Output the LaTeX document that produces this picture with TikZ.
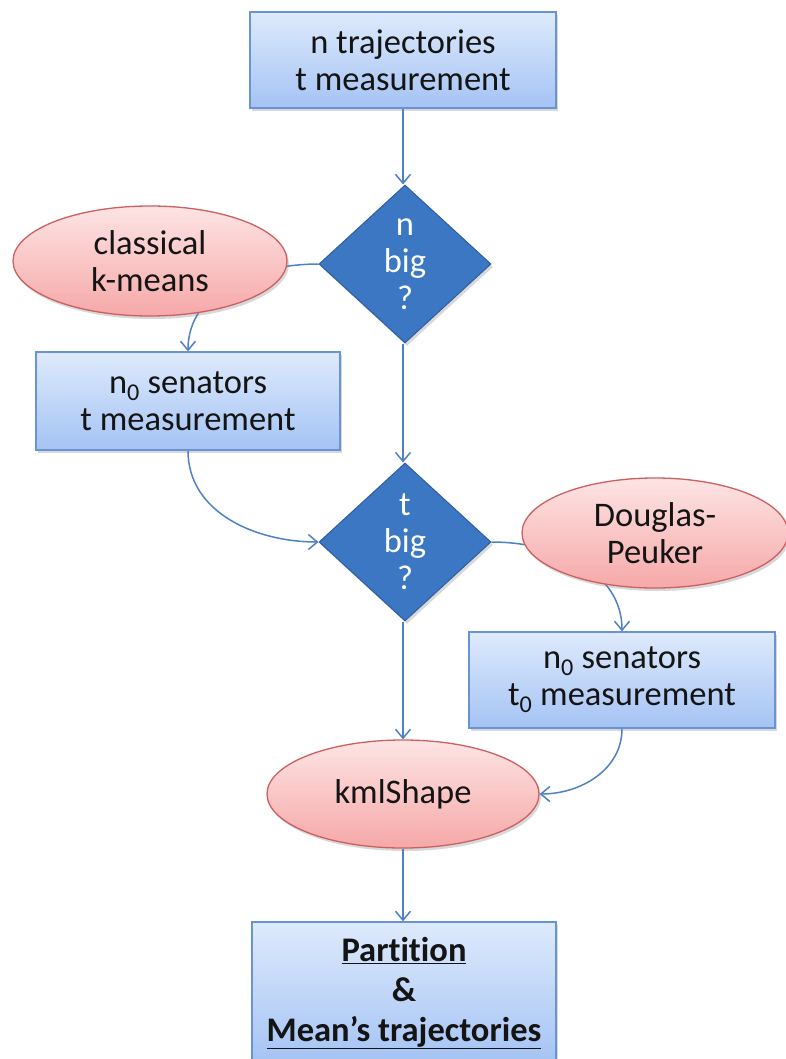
\documentclass[tikz,border=0pt]{standalone}
\usepackage{fontspec}
\setmainfont{Carlito}[Ligatures=NoCommon]
\usetikzlibrary{shapes.geometric,arrows.meta,shadows}
\pgfdeclarelayer{background}
\pgfdeclarelayer{paper}
\pgfsetlayers{paper,background,main}
\definecolor{boxtop}{RGB}{222,234,252}
\definecolor{boxbot}{RGB}{164,195,244}
\definecolor{boxline}{RGB}{104,148,212}
\definecolor{pinktop}{RGB}{253,228,228}
\definecolor{pinkbot}{RGB}{246,168,168}
\definecolor{pinkline}{RGB}{204,96,96}
\definecolor{diafill}{RGB}{60,119,196}
\definecolor{dialine}{RGB}{46,94,160}
\definecolor{conn}{RGB}{79,129,200}
\definecolor{txt}{RGB}{20,20,20}
\tikzset{
  x=1pt, y=-1pt,
  every node/.style={font=\fontsize{34.5}{37}\selectfont, align=center, text=txt},
  bluebox/.style={rectangle, draw=boxline, line width=1.3pt, top color=boxtop, bottom color=boxbot,
    drop shadow={shadow xshift=2pt, shadow yshift=-3pt, opacity=0.3}, inner sep=0pt},
  pinkell/.style={ellipse, draw=pinkline, line width=1.3pt, top color=pinktop, bottom color=pinkbot,
    drop shadow={shadow xshift=2pt, shadow yshift=-3pt, opacity=0.3}, inner sep=0pt},
  decision/.style={diamond, draw=dialine, line width=1pt, fill=diafill, text=white, inner sep=0pt,
    minimum width=172pt, minimum height=158pt,
    drop shadow={shadow xshift=2pt, shadow yshift=-3pt, opacity=0.3}},
  conline/.style={draw=conn, line width=1.5pt, -{Straight Barb[length=9pt,width=15pt]}},
}
\begin{document}
\begin{tikzpicture}
\useasboundingbox (0,0) rectangle (786,1059);
\begin{pgfonlayer}{paper}
\fill[white] (0,0) rectangle (786,1059);
\end{pgfonlayer}

\node[bluebox, minimum width=306pt, minimum height=96pt] (top) at (403,60) {n trajectories\\t measurement};
\node[decision] (d1) at (405,264) {n\\big\\?};
\node[pinkell, minimum width=274pt, minimum height=110pt] (e1) at (150,261) {classical\\k-means};
\node[bluebox, minimum width=304pt, minimum height=98pt] (b2) at (188,401) {n\textsubscript{0} senators\\t measurement};
\node[decision] (d2) at (405,542) {t\\big\\?};
\node[pinkell, minimum width=266pt, minimum height=110pt] (e2) at (655,533) {Douglas-\\Peuker};
\node[bluebox, minimum width=306pt, minimum height=96pt] (b3) at (622,680) {n\textsubscript{0} senators\\t\textsubscript{0} measurement};
\node[pinkell, minimum width=272pt, minimum height=108pt] (e3) at (403,794) {kmlShape};
\node[bluebox, minimum width=304pt, minimum height=142pt, font=\fontsize{34.5}{40}\selectfont\bfseries] (b4) at (404,993) {\underline{Partition}\\\&\\\underline{Mean’s trajectories}};

\begin{pgfonlayer}{background}
\draw[conline] (top.south -| 403,0) -- (d1.north -| 403,0);
\draw[conline] (d1.south -| 403,0) -- (d2.north -| 403,0);
\draw[conline] (d2.south -| 403,0) -- (e3.north);
\draw[conline] (e3.south) -- (b4.north -| 403,0);
\draw[conline] (d1.west) to[out=180,in=90] (b2.north);
\draw[conline] (b2.south) to[out=-90,in=180] (d2.west);
\draw[conline] (d2.east) to[out=0,in=90] (b3.north);
\draw[conline] (b3.south) to[out=-90,in=0] (e3.east);
\end{pgfonlayer}
\end{tikzpicture}
\end{document}
